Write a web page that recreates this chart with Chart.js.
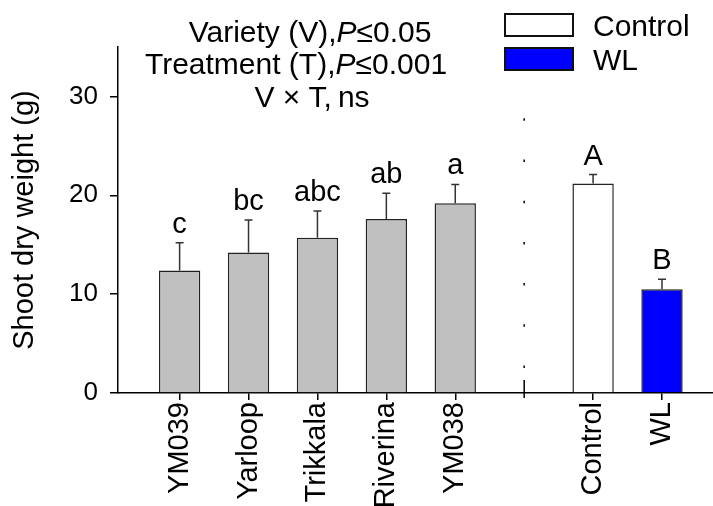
<!DOCTYPE html>
<html lang="en">
<head>
    <meta charset="UTF-8">
    <title>Shoot dry weight</title>
    <script src="https://cdn.jsdelivr.net/npm/chart.js"></script>
    <style>
        body { margin: 0; background: #fff; }
        canvas { display: block; }
    </style>
</head>
<body>
  <canvas id="shootChart" width="713" height="506"></canvas>

    <script>
        // values
        const varieties = ['YM039', 'Yarloop', 'Trikkala', 'Riverina', 'YM038'];
        const varietyMeans = [12.4, 14.2, 15.7, 17.6, 19.2];
        const varietyErrors = [2.8, 3.3, 2.7, 2.6, 1.9];
        const varietyLetters = ['c', 'bc', 'abc', 'ab', 'a'];

        const treatments = ['Control', 'WL'];
        const treatmentMeans = [21.2, 10.5];
        const treatmentErrors = [0.9, 1.0];
        const treatmentLetters = ['A', 'B'];

        const yTicks = [0, 10, 20, 30];

        // positions on the x axis: varieties 1..5, gap at 6, treatments 7..8
        const varietyX = varieties.map((_, i) => i + 1);
        const separatorX = 6;
        const treatmentX = treatments.map((_, i) => i + 7);

        const FONT = '"Liberation Sans", Arial, sans-serif';

        const xLabels = {};
        varieties.forEach((v, i) => xLabels[varietyX[i]] = v);
        treatments.forEach((t, i) => xLabels[treatmentX[i]] = t);

        // error bars, letters, separator, legend and stats text
        const extras = {
            id: 'extras',
            afterDatasetsDraw(chart) {
                const ctx = chart.ctx;
                const xs = chart.scales.x, ys = chart.scales.y;

                const allX = [...varietyX, ...treatmentX];
                const allMean = [...varietyMeans, ...treatmentMeans];
                const allErr = [...varietyErrors, ...treatmentErrors];
                const allLetters = [...varietyLetters, ...treatmentLetters];

                ctx.save();
                ctx.strokeStyle = '#333';
                ctx.lineWidth = 1.5;
                allX.forEach((xv, i) => {
                    const px = xs.getPixelForValue(xv);
                    const yTop = ys.getPixelForValue(allMean[i] + allErr[i]);
                    const yBar = ys.getPixelForValue(allMean[i]);
                    ctx.beginPath();
                    ctx.moveTo(px, yBar);
                    ctx.lineTo(px, yTop);
                    ctx.moveTo(px - 4, yTop);
                    ctx.lineTo(px + 4, yTop);
                    ctx.stroke();

                    ctx.fillStyle = '#000';
                    ctx.font = '29px ' + FONT;
                    ctx.textAlign = 'center';
                    ctx.textBaseline = 'alphabetic';
                    ctx.fillText(allLetters[i], px, yTop - 10);
                });

                // dotted separator between the two factors
                const sx = xs.getPixelForValue(separatorX);
                const y0 = ys.getPixelForValue(0);
                ctx.strokeStyle = '#000';
                ctx.beginPath();
                ctx.moveTo(sx, y0 + 5);
                ctx.lineTo(sx, y0 - 13);
                ctx.stroke();
                ctx.setLineDash([2.5, 38.7]);
                ctx.beginPath();
                ctx.moveTo(sx, y0 - 25);
                ctx.lineTo(sx, ys.getPixelForValue(28));
                ctx.stroke();
                ctx.setLineDash([]);

                // legend
                const legend = [
                    { label: 'Control', color: '#ffffff', y: 14 },
                    { label: 'WL', color: '#0000ff', y: 48 }
                ];
                legend.forEach(item => {
                    ctx.fillStyle = item.color;
                    ctx.fillRect(505, item.y, 68, 22);
                    ctx.strokeStyle = '#111';
                    ctx.lineWidth = 2;
                    ctx.strokeRect(505, item.y, 68, 22);
                    ctx.fillStyle = '#000';
                    ctx.font = '30px ' + FONT;
                    ctx.textAlign = 'left';
                    ctx.fillText(item.label, 593, item.y + 22);
                });

                // ANOVA summary, P in italics
                const lines = [
                    { cx: 310, y: 42, parts: [['Variety (V),', ''], ['P', 'italic '], ['\u22640.05', '']] },
                    { cx: 296, y: 74, parts: [['Treatment (T),', ''], ['P', 'italic '], ['\u22640.001', '']] },
                    { cx: 312, y: 107, parts: [['V \u00d7 T,\u2009ns', '']] }
                ];
                ctx.textAlign = 'left';
                lines.forEach(line => {
                    let total = 0;
                    line.parts.forEach(p => {
                        ctx.font = p[1] + '30px ' + FONT;
                        total += ctx.measureText(p[0]).width;
                    });
                    let x = line.cx - total / 2;
                    line.parts.forEach(p => {
                        ctx.font = p[1] + '30px ' + FONT;
                        ctx.fillText(p[0], x, line.y);
                        x += ctx.measureText(p[0]).width;
                    });
                });
                ctx.restore();
            }
        };

        const ctx = document.getElementById('shootChart').getContext('2d');
        new Chart(ctx, {
            type: 'bar',
            data: {
                datasets: [{
                    label: 'Variety',
                    data: varietyX.map((x, i) => ({ x: x, y: varietyMeans[i] })),
                    backgroundColor: '#c0c0c0'
                }, {
                    label: 'Control',
                    data: [{ x: treatmentX[0], y: treatmentMeans[0] }],
                    backgroundColor: '#ffffff'
                }, {
                    label: 'WL',
                    data: [{ x: treatmentX[1], y: treatmentMeans[1] }],
                    backgroundColor: '#0000ff'
                }]
            },
            options: {
                responsive: false,
                animation: false,
                layout: { padding: { top: 47, right: 0, left: 0, bottom: 0 } },
                datasets: {
                    bar: {
                        grouped: false,
                        barPercentage: 0.6,
                        categoryPercentage: 1,
                        borderColor: '#222',
                        borderWidth: 1.5
                    }
                },
                plugins: {
                    legend: { display: false },
                    tooltip: { enabled: false }
                },
                scales: {
                    x: {
                        type: 'linear',
                        offset: false,
                        min: 0.106,
                        max: 8.74,
                        afterBuildTicks: scale => {
                            scale.ticks = [...varietyX, ...treatmentX].map(v => ({ value: v }));
                        },
                        afterFit: scale => { scale.height = 113; },
                        grid: { offset: false, drawOnChartArea: false, color: '#000', lineWidth: 1.5, tickLength: 7 },
                        border: { color: '#000', width: 1.5 },
                        ticks: {
                            autoSkip: false,
                            minRotation: 90,
                            maxRotation: 90,
                            padding: 2,
                            color: '#000',
                            font: { family: FONT, size: 29 },
                            callback: value => xLabels[value] || ''
                        }
                    },
                    y: {
                        min: 0,
                        max: 35,
                        afterBuildTicks: scale => {
                            scale.ticks = yTicks.map(v => ({ value: v }));
                        },
                        afterFit: scale => { scale.width = 118; },
                        grid: { drawOnChartArea: false, color: '#000', lineWidth: 1.5, tickLength: 8 },
                        border: { color: '#000', width: 1.5 },
                        ticks: {
                            padding: 12,
                            color: '#000',
                            font: { family: FONT, size: 26 }
                        },
                        title: {
                            display: true,
                            text: 'Shoot dry weight (g)',
                            color: '#000',
                            font: { family: FONT, size: 29 },
                            padding: { top: 8, bottom: 0 }
                        }
                    }
                }
            },
            plugins: [extras]
        });
    </script>
</body>
</html>
